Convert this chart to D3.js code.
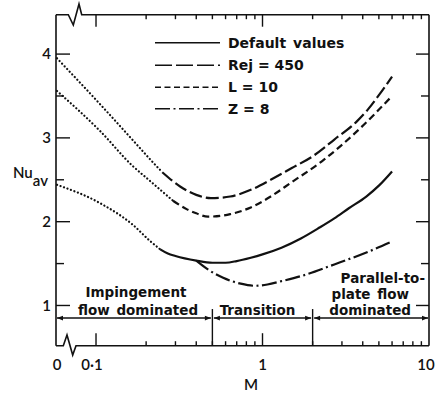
<!DOCTYPE html>
<html>
<head>
<meta charset="utf-8">
<script src="https://cdn.jsdelivr.net/npm/d3@7"></script>
<style>
  html, body { margin: 0; padding: 0; background: #fff; }
  svg { display: block; }
  text { font-family: Lato, "Liberation Sans", Arial, sans-serif; fill: #111; }
  text.wide { font-family: "DejaVu Sans", Verdana, sans-serif; font-weight: 700; }
</style>
</head>
<body>
<svg id="chart" width="436" height="394"></svg>
<script>
// Average Nusselt number against M, for four parameter sets.
// M = 0 sits beyond the axis break; the dotted parts run from there.
const seriesNames = ["Default values", "Rej = 450", "L = 10", "Z = 8"];

const defaultM  = [0, 0.106, 0.167, 0.211, 0.243, 0.27, 0.3, 0.4, 0.5, 0.6, 0.7, 0.85, 1.0, 1.3, 1.7, 2.2, 2.7, 3.3, 4.2, 5.0, 6.0];
const defaultNu = [2.44, 2.22, 1.96, 1.77, 1.67, 1.62, 1.59, 1.535, 1.51, 1.51, 1.53, 1.57, 1.61, 1.69, 1.80, 1.93, 2.04, 2.16, 2.30, 2.43, 2.60];
const defaultSolidFrom = 0.243;

const rejM  = [0, 0.106, 0.165, 0.21, 0.25, 0.32, 0.4, 0.49, 0.64, 0.85, 1.12, 1.5, 2.0, 2.7, 3.7, 4.3, 5.0, 6.0];
const rejNu = [3.95, 3.40, 2.98, 2.75, 2.59, 2.42, 2.32, 2.28, 2.30, 2.38, 2.50, 2.64, 2.78, 2.98, 3.20, 3.34, 3.51, 3.73];
const rejSolidFrom = 0.25;

const lM  = [0, 0.106, 0.165, 0.21, 0.29, 0.35, 0.40, 0.47, 0.64, 0.85, 1.12, 1.47, 2.34, 3.7, 6.0];
const lNu = [3.56, 3.08, 2.67, 2.49, 2.25, 2.15, 2.10, 2.06, 2.09, 2.17, 2.30, 2.46, 2.74, 3.08, 3.50];
const lSolidFrom = 0.29;

// Z = 8 follows the default curve up to M = 0.4, then branches off.
const zM  = [0.4, 0.47, 0.58, 0.74, 0.9, 1.07, 1.3, 1.7, 2.7, 4.3, 6.0];
const zNu = [1.535, 1.43, 1.33, 1.26, 1.235, 1.25, 1.29, 1.35, 1.49, 1.64, 1.765];

const xMajorTicks = [0.1, 1, 10];
const xTickLabels = ["0·1", "1", "10"];
const xMinorTicks = [0.2, 0.3, 0.4, 0.5, 0.6, 0.7, 0.8, 0.9, 2, 3, 4, 5, 6, 7, 8, 9];
const yMajorTicks = [1, 2, 3, 4];
const yMinorTicks = [1.5, 2.5, 3.5];

const regionBounds = [0.5, 2];     // M values splitting the flow regimes
const regionLineNu = 0.85;

const svg = d3.select("#chart");
const plotL = 56, plotR = 429, plotT = 14.7, plotB = 345.7;

const x = d3.scaleLog().domain([0.0575, 10]).range([plotL, plotR]);
const y = d3.scaleLinear().domain([0.52, 4.47]).range([plotB, plotT]);
const xPos = m => (m === 0 ? plotL + 1 : x(m));

const ink = "#111";

// Frame with axis-break zigzags on top and bottom
const frame = svg.append("g").attr("fill", "none").attr("stroke", ink)
  .attr("stroke-width", 1.6).attr("stroke-linejoin", "miter");
frame.append("path").attr("d",
  `M${plotL},${plotT} L${plotL + 12.3},${plotT} L${plotL + 17.3},${plotT + 10.3} L${plotL + 23},${plotT - 10.7} L${plotL + 25.7},${plotT} L${plotR},${plotT}`);
frame.append("path").attr("d",
  `M${plotL},${plotB} L${plotL + 7.3},${plotB} L${plotL + 11},${plotB - 10.7} L${plotL + 16.7},${plotB + 9.3} L${plotL + 20},${plotB} L${plotR},${plotB}`);
frame.append("line").attr("x1", plotL).attr("x2", plotL).attr("y1", plotT).attr("y2", plotB);
frame.append("line").attr("x1", plotR).attr("x2", plotR).attr("y1", plotT).attr("y2", plotB);

// Inward ticks on all four sides
const ticks = svg.append("g").attr("stroke", ink).attr("stroke-width", 1.4);
xMajorTicks.filter(v => v < 10).forEach(v => {
  ticks.append("line").attr("x1", x(v)).attr("x2", x(v)).attr("y1", plotB).attr("y2", plotB - 12.5);
  ticks.append("line").attr("x1", x(v)).attr("x2", x(v)).attr("y1", plotT).attr("y2", plotT + 12);
});
xMinorTicks.forEach(v => {
  ticks.append("line").attr("x1", x(v)).attr("x2", x(v)).attr("y1", plotB).attr("y2", plotB - 4.5);
  ticks.append("line").attr("x1", x(v)).attr("x2", x(v)).attr("y1", plotT).attr("y2", plotT + 4.5);
});
yMajorTicks.forEach(v => {
  ticks.append("line").attr("x1", plotL).attr("x2", plotL + 14).attr("y1", y(v)).attr("y2", y(v));
  ticks.append("line").attr("x1", plotR).attr("x2", plotR - 13).attr("y1", y(v)).attr("y2", y(v));
});
yMinorTicks.forEach(v => {
  ticks.append("line").attr("x1", plotL).attr("x2", plotL + 8).attr("y1", y(v)).attr("y2", y(v));
  ticks.append("line").attr("x1", plotR).attr("x2", plotR - 8).attr("y1", y(v)).attr("y2", y(v));
});

// Tick labels
const tl = svg.append("g").attr("font-size", 15).attr("font-weight", 600);
tl.append("text").attr("x", plotL + 1).attr("y", 370).attr("text-anchor", "middle").text("0");
xMajorTicks.forEach((v, i) => {
  const dx = v === 0.1 ? -4 : (v === 10 ? -3 : 0);
  tl.append("text").attr("x", x(v) + dx).attr("y", 370).attr("text-anchor", "middle").text(xTickLabels[i]);
});
yMajorTicks.forEach(v => {
  tl.append("text").attr("x", 51).attr("y", y(v)).attr("dy", "0.36em")
    .attr("text-anchor", "end").text(v);
});

// Axis titles
svg.append("text").attr("x", 251).attr("y", 390).attr("text-anchor", "middle")
  .attr("font-size", 15).attr("font-weight", 600).text("M");
const nu = svg.append("text").attr("x", 13).attr("y", 178).attr("font-size", 15).attr("font-weight", 600);
nu.append("tspan").text("Nu");
nu.append("tspan").attr("dy", 8).attr("font-size", 15).text("av");

// Curves
const line = d3.line().x(d => xPos(d[0])).y(d => y(d[1])).curve(d3.curveMonotoneX);
const zip = (ms, ns) => ms.map((m, i) => [m, ns[i]]);

const dashes = {
  "Default values": null,
  "Rej = 450": "13,4",
  "L = 10": "7,4",
  "Z = 8": "15,3.5,2,3.5"
};

const curves = svg.append("g").attr("fill", "none").attr("stroke", ink);

function drawSeries(pts, solidFrom, name) {
  const dotted = pts.filter(p => p[0] <= solidFrom);
  const solid = pts.filter(p => p[0] >= solidFrom);
  if (dotted.length > 1) {
    curves.append("path").attr("d", line(dotted))
      .attr("stroke-width", 2.2).attr("stroke-dasharray", "0.1,3.6").attr("stroke-linecap", "round");
  }
  curves.append("path").attr("d", line(solid))
    .attr("stroke-width", 2.2).attr("stroke-dasharray", dashes[name]);
}

drawSeries(zip(defaultM, defaultNu), defaultSolidFrom, "Default values");
drawSeries(zip(rejM, rejNu), rejSolidFrom, "Rej = 450");
drawSeries(zip(lM, lNu), lSolidFrom, "L = 10");
drawSeries(zip(zM, zNu), zM[0], "Z = 8");

// Legend
const legendY = [42.7, 65.3, 87.3, 108.7];
const legend = svg.append("g");
seriesNames.forEach((name, i) => {
  legend.append("line").attr("x1", 155).attr("x2", 220)
    .attr("y1", legendY[i]).attr("y2", legendY[i])
    .attr("stroke", ink).attr("stroke-width", 1.6)
    .attr("stroke-dasharray", name === "Rej = 450" ? "17,4" : (name === "L = 10" ? "6,3.5" : dashes[name]));
  legend.append("text").attr("class", "wide").attr("x", 228).attr("y", legendY[i]).attr("dy", "0.36em")
    .attr("font-size", 14)
    .text(name === "Default values" ? "Default\u2002values" : name);
});

// Flow-regime bands along the bottom
const defs = svg.append("defs");
defs.append("marker").attr("id", "arrow").attr("viewBox", "0 0 10 10")
  .attr("refX", 10).attr("refY", 5).attr("markerWidth", 7).attr("markerHeight", 6)
  .attr("markerUnits", "userSpaceOnUse").attr("orient", "auto-start-reverse")
  .append("path").attr("d", "M0,1 L10,5 L0,9 Z").attr("fill", ink);

const ry = y(regionLineNu);
const edges = [plotL, ...regionBounds.map(b => x(b)), plotR];
const regions = svg.append("g").attr("stroke", ink).attr("stroke-width", 1.4);
for (let i = 0; i < edges.length - 1; i++) {
  regions.append("line").attr("x1", edges[i] + (i === 0 ? 1 : 1.5)).attr("x2", edges[i + 1] - (i === edges.length - 2 ? 1 : 1.5))
    .attr("y1", ry).attr("y2", ry)
    .attr("marker-start", "url(#arrow)").attr("marker-end", "url(#arrow)");
}
regionBounds.forEach(b => {
  regions.append("line").attr("x1", x(b)).attr("x2", x(b)).attr("y1", ry - 9).attr("y2", plotB);
});

const regionText = [
  { t: "Impingement",        x: 136,   y: 296.5, a: "middle" },
  { t: "flow\u2002dominated", x: 138,   y: 314.5, a: "middle" },
  { t: "Transition",         x: 257.5, y: 314.5, a: "middle" },
  { t: "Parallel-to-",       x: 425,   y: 283,   a: "end" },
  { t: "plate\u2002flow",     x: 409,   y: 298.5, a: "end" },
  { t: "dominated",          x: 411,   y: 314.5, a: "end" }
];
svg.append("g").selectAll("text").data(regionText).join("text")
  .attr("class", "wide").attr("font-size", 13.5)
  .attr("x", d => d.x).attr("y", d => d.y).attr("text-anchor", d => d.a)
  .text(d => d.t);
</script>
</body>
</html>
